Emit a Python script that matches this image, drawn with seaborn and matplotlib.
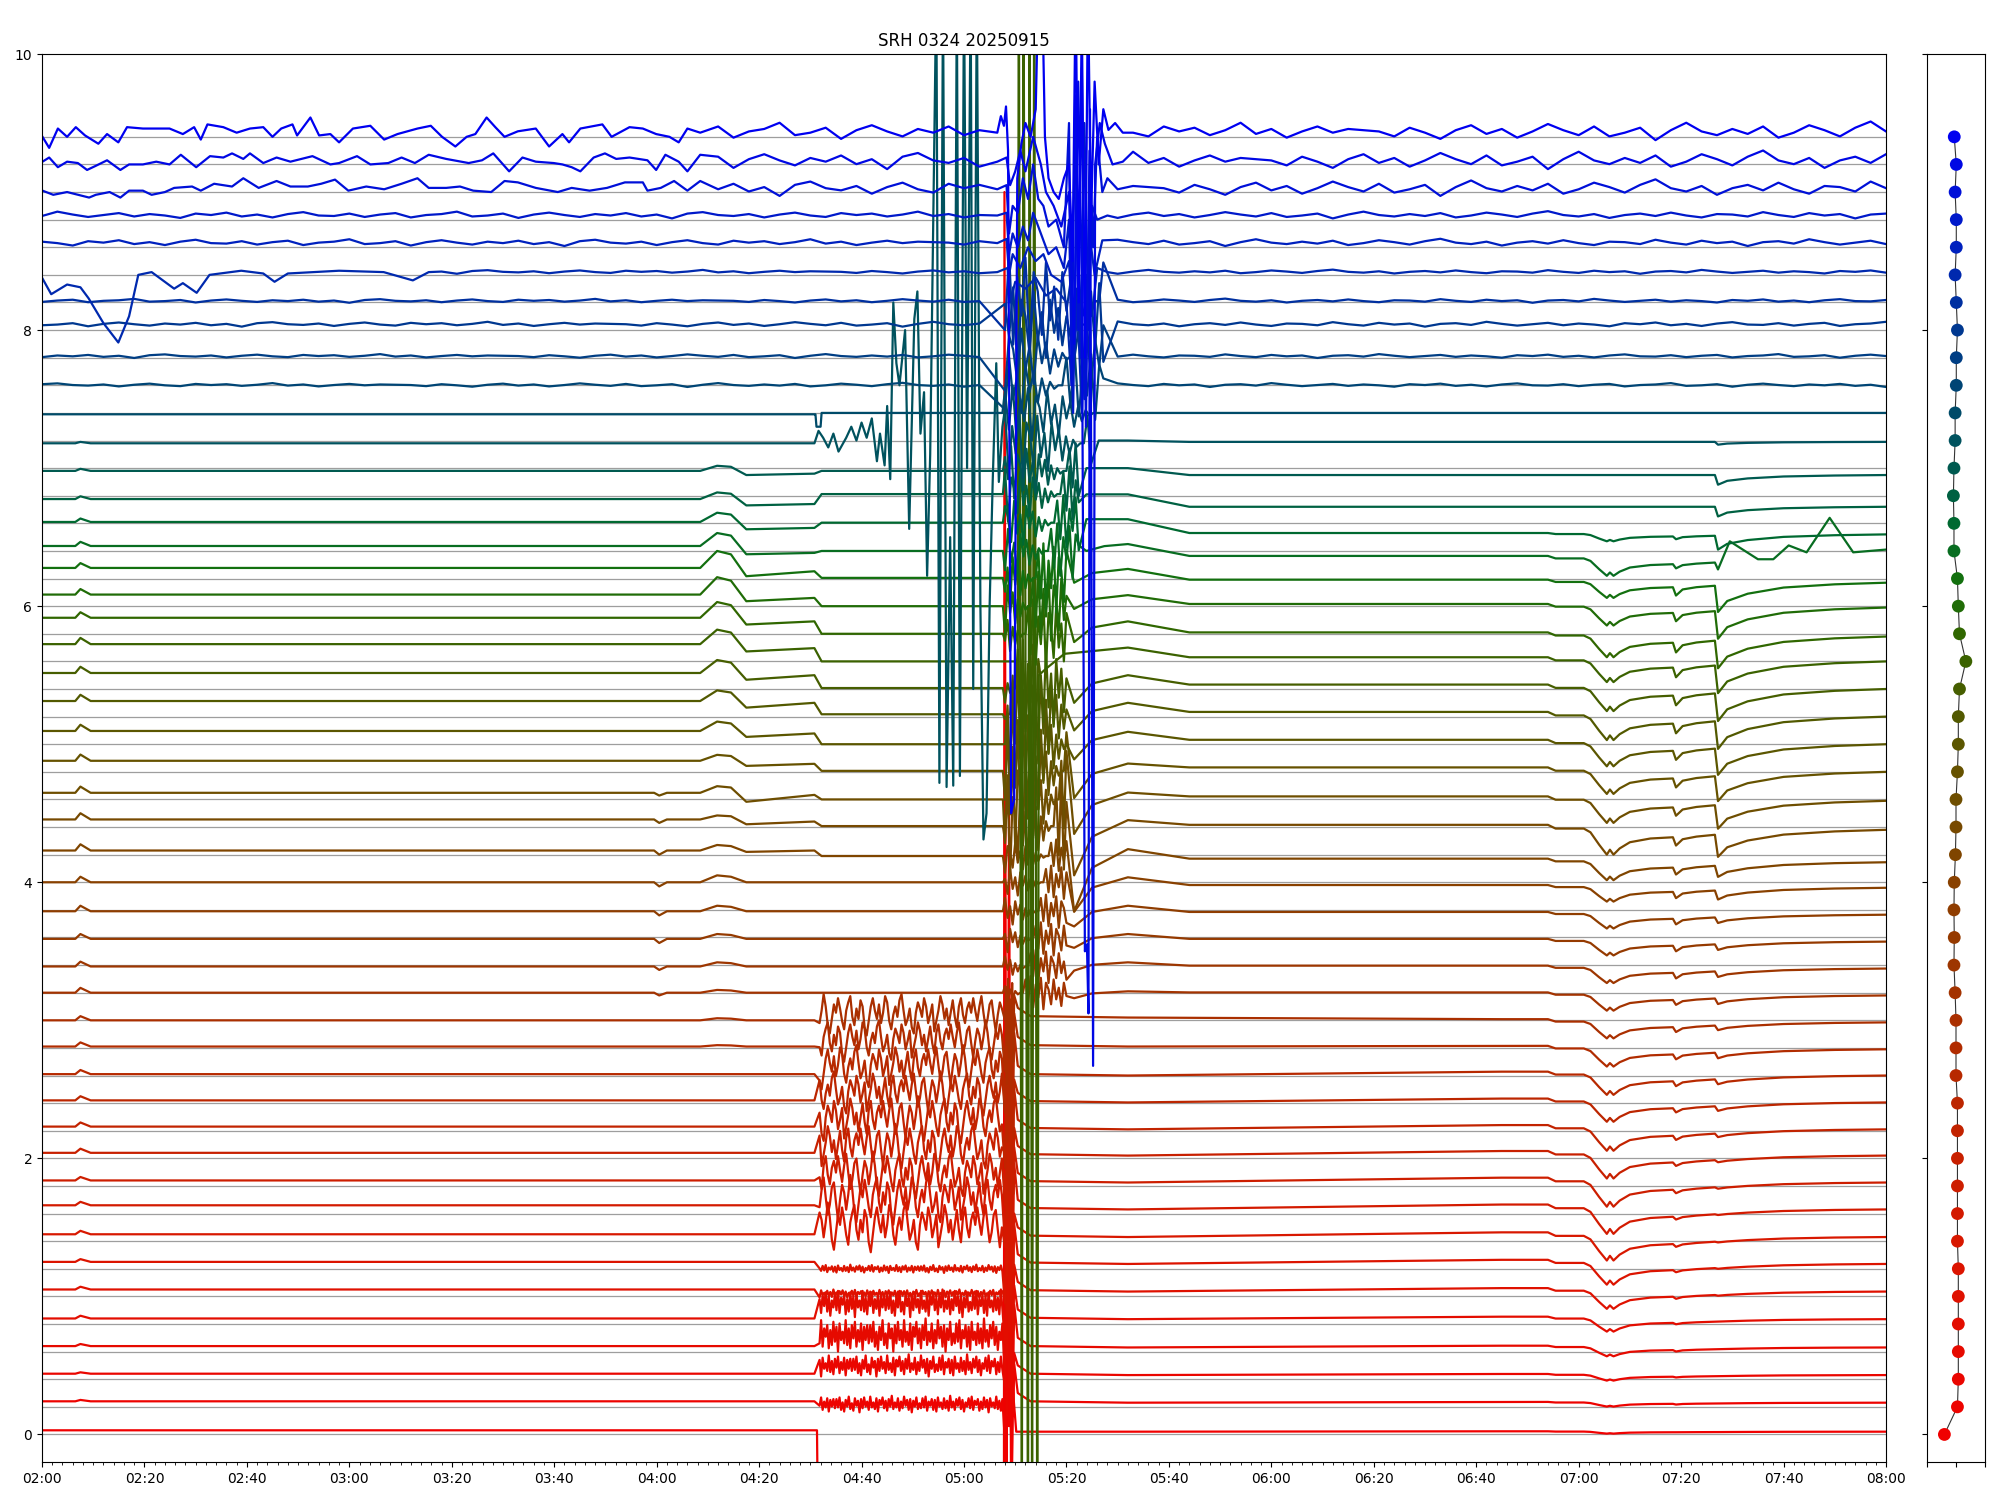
import numpy as np
import pandas as pd
import seaborn as sns
import matplotlib.pyplot as plt
import matplotlib.dates as mdates
from matplotlib.colors import LinearSegmentedColormap

# all times are minutes after 02:00, values are offsets above each grey baseline
levels = [0.0, 0.2, 0.4, 0.6, 0.8, 1.0, 1.2, 1.4, 1.6, 1.8,
          2.0, 2.2, 2.4, 2.6, 2.8, 3.0, 3.2, 3.4, 3.6, 3.8,
          4.0, 4.2, 4.4, 4.6, 4.8, 5.0, 5.2, 5.4, 5.6, 5.8,
          6.0, 6.2, 6.4, 6.6, 6.8, 7.0, 7.2, 7.4, 7.6, 7.8,
          8.0, 8.2, 8.4, 8.6, 8.8, 9.0, 9.2, 9.4]

# levels before 04:15, at the 04:15 hump, 04:17-04:31, 04:32-05:08, after 05:30, 06:45 on
lift_a = [.03, .04, .04, .04, .04, .05, .05, .05, .06, .04, .04, .03, .02, .01, .01, 0, 0, -.01, -.01, -.01,
          0, .03, .055, .048, .08, .096, .113, .116, .125, .116, .084, .077, .036, .01, -.024, -.02, -.02, -.01,
          0, .01, .04, .01, .02, .03, .03, .02, .02, .03]
peak_415 = [.03, .04, .04, .04, .04, .05, .05, .05, .06, .04, .04, .03, .02, .01, .02, .015, .02, .02, .025, .03,
            .05, .07, .084, .096, .123, .164, .19, .21, .23, .23, .21, .2, .13, .077, .024, .017, -.02, -.01,
            0, .01, .04, .01, .02, .03, .03, .02, .02, .03]
lift_m = [.03, .04, .04, .04, .04, .05, .05, .05, .06, .04, .04, .03, .02, .01, .01, 0, 0, -.01, -.01, -.01,
          0, .02, .02, -.017, .043, .053, .065, .067, .072, .067, .036, .017, -.024, -.043, -.07, -.05, -.02, -.01,
          0, .01, .04, .01, .02, .03, .03, .02, .02, .03]
# slow rise of the level between 04:20 and 04:31
rise_m = [0, 0, 0, 0, 0, 0, 0, 0, 0, 0, 0, 0, 0, 0, 0, 0, 0, 0, 0, 0,
          0, .01, .02, .05, .015, .025, .035, .033, .024, .023, .024, .036, .01, .01, .01, .01, 0, 0,
          0, 0, 0, 0, 0, 0, 0, 0, 0, 0]
lift_b = [.03, .04, .04, .04, .04, .05, .05, .05, .06, .04, .04, .03, .02, .01, .01, 0, 0, -.01, -.01, -.01,
          0, -.01, .007, 0, .007, 0, .017, .007, 0, 0, 0, .005, 0, .005, .012, -.02, -.02, 0,
          0, .01, .04, .01, .02, .03, .03, .02, .02, .03]
lift_p = [.02, .03, .03, .03, .035, .035, .035, .03, .03, .025, .02, .01, .005, 0, .01, .02, .01, .02, .025, .03,
          .036, .04, .05, .05, .06, .09, .1, .1, .1, .09, .08, .07, .05, .03, .01, 0, 0, 0,
          0, .01, .04, .01, .02, .03, .03, .02, .02, .03]
lift_c = [.02, .03, .03, .03, .035, .035, .035, .03, .03, .025, .02, .01, .005, 0, -.01, -.015, -.02, -.025, -.03, -.035,
          -.04, -.055, -.02, -.01, 0, 0, 0, 0, 0, -.02, -.01, -.03, -.06, -.08, -.08, -.05, -.01, 0,
          0, .01, .04, .01, .02, .03, .03, .02, .02, .03]
bump_207 = [0, .01, .01, .015, .02, .02, .02, .025, .025, .025, .03, .03, .03, .03, .03, .03, .035, .035, .035, .04,
            .04, .045, .045, .045, .045, .045, .045, .045, .045, .04, .04, .035, .03, .025, .02, .015, .01, 0,
            0, 0, 0, 0, 0, 0, 0, 0, 0, 0]
dip_400 = [0, 0, 0, 0, 0, 0, 0, 0, 0, 0, 0, 0, 0, 0, 0, 0, .02, .025, .03, .03,
           .03, .03, .025, .02, 0, 0, 0, 0, 0, 0, 0, 0, 0, 0, 0, 0, 0, 0,
           0, 0, 0, 0, 0, 0, 0, 0, 0, 0]
# depths of the 07:05, 07:19 and 07:27 dips
a705 = [.014, .028, .04, .064, .09, .125, .15, .17, .177, .175, .166, .155, .14, .14, .125, .116, .11, .105, .10, .10,
        .10, .13, .18, .16, .16, .16, .17, .16, .15, .15, .13, .11, .12, .05, 0, 0, 0, 0,
        0, 0, 0, 0, 0, 0, 0, 0, 0, 0]
a719 = [0, .005, .005, .01, .01, .015, .015, .02, .02, .025, .025, .03, .03, .035, .035, .035, .035, .04, .04, .04,
        .045, .05, .06, .06, .065, .065, .07, .07, .07, .07, .06, .06, .03, .02, 0, 0, 0, 0,
        0, 0, 0, 0, 0, 0, 0, 0, 0, 0]
a727 = [0, 0, 0, 0, 0, .005, .005, .005, .005, .01, .015, .025, .033, .035, .04, .033, .04, .04, .04, .04,
        .065, .08, .16, .17, .18, .19, .2, .2, .2, .2, .2, .19, .05, .1, .07, .07, .02, 0,
        0, 0, 0, 0, 0, 0, 0, 0, 0, 0]
# dip right after the 05:10 burst
post_dip = [0, -.06, -.06, -.06, -.06, -.06, -.06, -.06, -.06, -.06, -.06, -.06, -.06, -.06, -.06, -.06, .05, .06, .1, .15,
            .25, .45, .4, .3, .25, .2, .2, .2, .15, .15, .1, .1, .05, 0, 0, 0, 0, 0,
            0, 0, 0, 0, 0, 0, 0, 0, 0, 0]
burst_amp = [0, .3, .3, .3, .3, .3, .3, .3, .3, .3, .3, .3, .3, .3, .3, .3, .12, .12, .12, .12,
             .12, .12, .35, .35, .35, .35, .35, .35, 0, .25, .25, .25, .2, .2, .2, .2, .25, .2,
             .25, .25, .3, .35, 0, 0, 0, 0, 0, 0]
burst_step = [0, .2, .2, .2, .2, .2, .2, .2, .2, .2, .2, .2, .2, .2, .2, .2, .5, .5, .5, .5,
              .5, .5, .5, .5, .5, .5, .5, .5, .5, .5, .5, .5, .6, .6, .6, .6, .7, .75,
              .8, .8, .8, .8, 0, 0, 0, 0, 0, 0]

# 04:32-05:08 noise of the lowest traces: centre and half range
noise_mid = [0, .02, .1, .12, .15, .02, 0, .1, .1, .08, .08, .08, .07, .06, .05, .04]
noise_amp = [0, .06, .08, .12, .1, .03, .03, .18, .18, .17, .17, .17, .16, .16, .15, .15]
noise_slow = [0.8, 0.2, -0.3, 0.4, 0.9, 0.1, -0.6, -0.2, 0.5, 0.7, -0.1, -0.8, 0.0, 0.6, 0.3, -0.4,
              0.2, 1.0, 0.4, -0.5, -0.9, -0.2, 0.5, 0.1, 0.8, 0.3, -0.3, -0.7, 0.2, 0.6, 0.9, -0.1,
              -0.5, 0.3, -0.2, 0.7, 0.4, -0.6, -1.0, -0.3, 0.4, 0.8, 0.2, -0.2, 0.5, -0.4, 0.1, 0.9,
              0.6, -0.3, -0.7, 0.0, 0.4, -0.1, 0.7, 1.0, 0.2, -0.5, -0.2, 0.3, -0.6, -0.9, 0.1, 0.6,
              0.3, -0.1, 0.8, 0.4, -0.4, 0.0, 0.5, -0.8, -0.3, 0.2, 0.9, 0.5, -0.2, 0.3, -0.5, 0.1,
              0.7, -0.1, -0.6, 0.4, 0.8, 0.0, -0.4, 0.3, 0.6, 0.1]
noise_fast = [0.6, -0.4, 0.8, -0.7, 0.2, -0.9, 0.5, -0.3, 0.9, -0.6, 0.1, -0.8, 0.7, -0.2, 0.4, -1.0,
              0.6, -0.5, 0.8, -0.3, 0.3, -0.7, 0.9, -0.4, 0.2, -0.6, 0.7, -0.9, 0.5, -0.1, 0.8, -0.5,
              0.4, -0.8, 0.6, -0.3, 1.0, -0.6, 0.2, -0.4, 0.7, -0.8, 0.3, -0.5, 0.9, -0.2, 0.5, -0.7,
              0.6, -1.0, 0.4, -0.3, 0.8, -0.6, 0.1, -0.5, 0.7, -0.4, 0.9, -0.8, 0.3, -0.2, 0.6, -0.7,
              0.5, -0.9, 0.8, -0.3, 0.2, -0.6, 0.7, -0.5, 0.4, -0.8, 1.0, -0.4, 0.3, -0.7, 0.6, -0.2,
              0.8, -0.6, 0.5, -0.9, 0.2, -0.3, 0.7, -0.5, 0.9, -0.7, 0.4, -0.1, 0.6, -0.8, 0.3, -0.6,
              0.8, -0.4, 0.5, -1.0, 0.7, -0.3, 0.2, -0.5, 0.9, -0.6, 0.4, -0.8, 0.6, -0.2, 0.8, -0.7,
              0.3, -0.4, 0.7, -0.9, 0.5, -0.3, 0.6, -0.5]
burst_seq = [0.0, 0.8, -0.6, 1.0, -0.9, 0.5, -0.3, 0.9, -1.0, 0.6, 0.2, -0.7, 0.8, -0.4, 0.3, -0.8,
             0.6, -0.2, 0.4, -0.5, 0.2, -0.3, 0.1, -0.1, 0.0]
# small ripples of the upper traces, one value every 3 minutes
wig_fine = [0.1, -0.3, 0.4, 0.0, -0.5, 0.2, 0.6, -0.1, 0.3, -0.4, 0.1, 0.7, 0.2, -0.2, 0.5, -0.3,
            0.0, 0.4, -0.6, 0.2, 0.8, 0.1, -0.2, 0.3, -0.1, 0.5, -0.4, 0.0, 0.6, 0.2, -0.3, 0.4,
            0.9, 0.1, -0.2, 0.3, -0.5, 0.1, 0.4, -0.1, 0.6, 0.0, -0.4, 0.3, 0.2, -0.2, 0.7, 0.1,
            -0.3, 0.5, 0.0, 0.3, -0.6, 0.2, 0.4, -0.1, 0.8, 0.2, -0.3, 0.1, 0.5, -0.2, 0.3, 0.0,
            -0.5, 0.4, 0.1, 0.6, -0.2, 0.2, -0.4, 0.3, 0.7, 0.0, -0.1, 0.4, -0.3, 0.2, 0.5, -0.4,
            0.1, 0.3, 0.8, -0.2, 0.0, 0.4, -0.5, 0.2, 0.6, 0.1, -0.3, 0.3, 0.0, 0.5, -0.2, 0.2,
            -0.6, 0.4, 0.7, 0.1, -0.1, 0.3, -0.4, 0.2, 0.6, 0.0, -0.3, 0.5, 0.1, 0.4, -0.2, 0.2,
            0.8, -0.1, 0.3, -0.4, 0.1, 0.5, 0.0, 0.3, 0.2]
wig_amp = [.02, .02, .025, .02, .02, .035, .035, .08, .09, .09]          # traces 7.6 ... 9.4

# shapes of the 07:05 / 07:19 / 07:27 dips
late_t = [285, 294, 295.5, 301, 302.3, 304.0, 305.5, 306.1, 306.8, 308.0, 310.0, 314, 318.4, 319.0, 320.3,
          323, 326.6, 327.2, 329, 333, 340, 350, 360]
s705 = [0.2, 0.2, 0.05, 0.05, -0.1, -0.6, -1.0, -0.8, -1.0, -0.75, -0.5, -0.35, -0.3, -0.3, -0.28, -0.24,
        -0.2, -0.2, -0.17, -0.12, -0.06, -0.02, 0.0]
s719 = [0, 0, 0, 0, 0, 0, 0, 0, 0, 0, 0, 0, 0, -1.0, -0.3, -0.1, 0, 0, 0, 0, 0, 0, 0]
s727 = [0, 0, 0, 0, 0, 0, 0, 0, 0, 0, 0, 0, 0, 0, 0, 0, 0, -1.0, -0.6, -0.35, -0.15, -0.05, 0]
k32_t = [329.5, 335, 338, 341, 344.5, 349, 353.6, 360]
k32_v = [0.07, -0.06, -0.06, 0.04, -0.01, 0.24, -0.01, 0.01]

# trace 8.4, early dips (absolute values)
k42_t = [0, 1.8, 4.9, 7.5, 9.1, 12, 14.9, 17, 18.8, 21.4, 25.8, 27.5, 30.2, 32.7, 38.9, 43.2, 45.4, 48, 58,
         66.7, 72.4, 75.5]
k42_v = [8.38, 8.26, 8.33, 8.31, 8.23, 8.05, 7.91, 8.1, 8.40, 8.42, 8.30, 8.34, 8.27, 8.40, 8.43, 8.41, 8.35,
         8.41, 8.43, 8.42, 8.36, 8.42]

# top three traces, 02:00-04:08 (offsets)
k47_t = [0.1, 1.4, 3.1, 4.9, 6.6, 8.4, 11.0, 12.7, 14.9, 16.6, 19.7, 22.3, 24.9, 27.5, 29.7, 31.0, 32.3, 35.4,
         38.0, 40.6, 43.2, 45.0, 46.7, 48.9, 49.8, 52.4, 54.1, 56.3, 58.0, 60.7, 64.1, 66.8, 69.4, 73.3, 75.9,
         78.1, 80.7, 82.9, 84.6, 86.8, 88.5, 90.3, 92.9, 96.4, 99.0, 101.6, 102.9, 105.1, 109.4, 111.2, 114.7,
         117.3, 119.9, 122.5, 124.3, 126.0, 128.5]
k47_v = [0.0, -0.08, 0.06, 0.0, 0.07, 0.01, -0.05, 0.02, -0.04, 0.07, 0.06, 0.06, 0.06, 0.02, 0.07, -0.02,
         0.09, 0.07, 0.03, 0.06, 0.07, 0.0, 0.06, 0.09, 0.01, 0.14, 0.01, 0.02, -0.04, 0.06, 0.08, -0.02,
         0.02, 0.06, 0.08, 0.0, -0.07, 0.0, 0.02, 0.14, 0.07, 0.0, 0.04, 0.06, -0.07, 0.02, -0.04, 0.06,
         0.09, 0.0, 0.07, 0.06, 0.02, 0.0, -0.04, 0.06, 0.03]
k46_t = [0.1, 1.4, 3.1, 4.9, 7.0, 8.8, 10.5, 12.7, 15.3, 17.0, 19.7, 22.3, 24.9, 27.1, 30.1, 32.8, 35.4, 37.1,
         39.3, 40.6, 43.2, 45.8, 48.5, 52.8, 56.3, 58.0, 61.5, 64.1, 67.6, 70.2, 72.8, 75.5, 78.9, 83.3, 85.9,
         88.1, 91.2, 93.8, 96.4, 99.9, 101.6, 103.4, 105.1, 107.7, 109.9, 112.1, 114.7, 118.2, 119.9, 121.7,
         124.3, 126.0, 128.5]
k46_v = [0.02, 0.05, -0.02, 0.02, 0.01, -0.04, -0.01, 0.03, -0.04, 0.0, 0.0, 0.02, 0.0, 0.07, -0.02, 0.06,
         0.05, 0.08, 0.04, 0.08, 0.01, 0.05, 0.02, 0.06, 0.0, 0.01, 0.06, 0.0, 0.01, 0.05, 0.01, 0.07, 0.04,
         0.01, 0.03, 0.08, -0.05, 0.05, 0.02, 0.01, 0.0, -0.02, -0.05, 0.05, 0.08, 0.04, 0.05, 0.03, -0.04,
         0.07, 0.02, -0.05, 0.07]
k45_t = [0.1, 2.2, 4.9, 9.2, 10.5, 13.2, 15.3, 17.0, 19.7, 21.4, 24.0, 25.8, 29.3, 31.0, 33.6, 37.1, 39.3,
         42.3, 45.8, 48.5, 51.9, 54.5, 57.2, 59.8, 63.3, 66.8, 70.2, 73.3, 75.5, 78.9, 81.6, 84.2, 87.7, 90.3,
         92.9, 96.4, 100.7, 103.4, 106.9, 110.3, 113.8, 117.3, 118.2, 120.8, 123.4, 126.0, 128.5]
k45_v = [0.01, -0.02, 0.0, -0.04, -0.02, 0.0, -0.04, 0.01, 0.01, -0.02, 0.0, 0.03, 0.04, 0.01, 0.06, 0.04,
         0.1, 0.03, 0.08, 0.04, 0.04, 0.06, 0.09, 0.01, 0.04, 0.02, 0.06, 0.1, 0.03, 0.03, 0.04, 0.01, 0.0,
         0.08, 0.07, 0.03, 0.0, 0.03, 0.01, 0.03, 0.07, 0.07, 0.01, 0.03, 0.08, 0.01, 0.08]

# teal burst of trace 7.2 (absolute values)
teal_t = [151.6, 152.5, 153.5, 154.5, 155.5, 157, 158, 159, 160, 161, 162, 163, 163.6, 164.5, 165, 165.6,
          166.2, 166.8, 167.4, 168.5, 169.3, 170.3, 170.9, 171.5, 172.2, 172.8, 173.4, 174.6, 175.2, 175.9,
          176.6, 177.3, 177.9, 178.6, 179.2, 180.0, 180.6, 181.3, 181.8, 182.5, 183.2, 183.8, 184.4, 185.0,
          185.6, 186.3, 186.8, 187.5]
teal_v = [7.27, 7.22, 7.15, 7.25, 7.12, 7.22, 7.30, 7.20, 7.33, 7.22, 7.36, 7.05, 7.25, 7.02, 7.45, 6.92,
          8.2, 7.76, 7.6, 8.0, 6.56, 8.08, 8.28, 7.25, 7.55, 6.22, 7.1, 10.5, 4.72, 10.5, 4.69, 6.5, 4.7,
          10.5, 4.77, 10.5, 7.0, 10.5, 5.4, 10.5, 6.0, 4.31, 4.5, 6.0, 6.9, 7.76, 6.9, 7.3]
# green spikes of trace 5.6 and red spikes of trace 0 (absolute values)
green_t = [190.5, 190.7, 191.3, 191.6, 192.5, 192.8, 193.3, 193.7, 194.3, 194.6]
green_v = [5.6, 11.0, -1.0, 11.0, -1.0, 11.0, -1.0, 11.0, -1.0, 5.5]
red_t = [187.9, 188.3, 188.8, 189.2, 189.6, 190.2]
red_v = [9.0, -0.7, 4.5, -0.7, 0.3, 0.02]
# blue burst, 05:06-05:30 (absolute values)
b47_t = [186.5, 187.2, 187.8, 188.2, 188.6, 189.2, 189.8, 190.4, 191.2, 192.0, 193.0, 194.0, 194.6, 195.2,
         195.8, 196.5, 197.5, 198.5, 199.5, 200.5, 201.2, 201.8, 202.4, 203.0, 203.6, 204.2, 204.8, 205.5,
         206.3, 207.2, 208.2, 209.5, 211]
b47_v = [9.43, 9.55, 9.48, 9.62, 9.3, 4.5, 4.6, 9.1, 9.35, 9.5, 9.4, 9.6, 10.6, 10.6, 9.4, 9.1, 9.0, 8.95,
         9.1, 9.2, 8.5, 10.5, 8.2, 10.3, 7.8, 10.5, 8.8, 9.8, 9.2, 9.6, 9.45, 9.5, 9.43]
b46_t = [186.5, 188.3, 189, 190, 191, 192, 193.5, 195, 196, 197.5, 199, 200.5, 201.5, 202.3, 203, 203.6,
         204.0, 204.3, 204.6, 205.2, 205.6, 206.5, 207.5, 209, 211]
b46_v = [9.22, 9.25, 9.05, 9.15, 9.3, 9.15, 9.4, 9.2, 9.0, 8.9, 8.75, 9.0, 7.9, 9.8, 8.4, 3.5, 3.55, 3.05,
         9.6, 2.67, 9.2, 9.5, 9.35, 9.2, 9.22]
b45_t = [186.5, 188.3, 188.8, 189.5, 190.5, 191.5, 192.5, 193.5, 194.5, 195.5, 196.5, 198, 199.5, 200.5, 201,
         201.7, 202.3, 203, 203.8, 204.5, 205.2, 206, 207, 208, 210]
b45_v = [9.02, 9.05, 8.7, 8.9, 8.85, 9.1, 8.95, 9.2, 8.95, 8.9, 8.75, 8.8, 8.6, 9.5, 7.6, 9.7, 8.0, 9.9, 7.3,
         9.3, 8.6, 9.4, 9.0, 9.1, 9.02]
b44_t = [186.5, 188.3, 188.8, 189.5, 190.5, 191.5, 192.5, 193.5, 195, 196.5, 198, 199.5, 200.5, 201.3, 202,
         202.8, 203.5, 204.3, 205, 206, 208]
b44_v = [8.83, 8.85, 8.55, 8.7, 8.6, 8.75, 8.65, 8.85, 8.7, 8.55, 8.6, 8.45, 8.8, 7.4, 9.1, 7.8, 9.5, 8.0,
         8.9, 8.8, 8.83]
b43_t = [186.5, 188.3, 188.8, 189.5, 191, 192.5, 194, 195.5, 197, 199, 200.5, 201.5, 202.5, 203.5, 204.5,
         205.5, 207]
b43_v = [8.63, 8.66, 8.4, 8.55, 8.45, 8.6, 8.5, 8.55, 8.4, 8.35, 8.5, 7.8, 8.4, 7.5, 8.7, 8.4, 8.65]
b42_t = [186.5, 188.5, 189, 190, 192, 194, 196, 198, 200, 201, 202, 203, 204, 205, 206, 208]
b42_v = [8.42, 8.45, 8.2, 8.35, 8.3, 8.38, 8.25, 8.3, 8.2, 7.6, 8.3, 7.4, 8.4, 8.1, 8.45, 8.42]

# side panel: horizontal position of each trace's marker
dot_x = [-0.40, 0.05, 0.08, 0.08, 0.08, 0.08, 0.08, 0.05, 0.05, 0.05, 0.05, 0.05, 0.05, 0.0, 0.0, 0.0,
         -0.03, -0.07, -0.06, -0.07, -0.06, -0.02, 0.0, 0.0, 0.05, 0.08, 0.08, 0.12, 0.34, 0.12, 0.08, 0.05,
         -0.07, -0.07, -0.09, -0.07, -0.03, -0.03, 0.01, 0.01, 0.05, 0.01, -0.03, 0.01, 0.01, -0.03, 0.01, -0.06]

cmap = LinearSegmentedColormap.from_list('srh', [
    (0.0, '#f00000'), (0.15, '#d81800'), (0.3, '#b02c00'), (0.42, '#8a4000'), (0.5, '#6a5000'),
    (0.57, '#4a5c00'), (0.62, '#2d6800'), (0.66, '#12700f'), (0.7, '#006a30'), (0.745, '#005a50'),
    (0.79, '#004a6a'), (0.85, '#00388f'), (0.92, '#0020c0'), (1.0, '#0000f0')])
colors = [cmap(k / 47) for k in range(48)]
names = ['f%02d' % k for k in range(48)]

T0 = pd.Timestamp('2025-09-15 02:00')


def seq_at(start, step, seq, shift=0):
    s = np.roll(np.asarray(seq, float), shift)
    return list(start + step * np.arange(len(s))), s


def build(k):
    t, v = [], []

    def add(tt, vv):
        t.extend(list(tt))
        v.extend(list(vv))

    lev = levels[k]
    if k >= 38:
        wt, ws = seq_at(0, 360.0 / (len(wig_fine) - 1), wig_fine, 7 * k)
        amp = wig_amp[k - 38]
        if k in (45, 46, 47):
            et, ev = {45: (k45_t, k45_v), 46: (k46_t, k46_v), 47: (k47_t, k47_v)}[k]
            add(et, np.asarray(ev) + lev)
            start = 130
        elif k == 42:
            add(k42_t, k42_v)
            start = 77
        else:
            start = -1
        for a, b in zip(wt, ws):
            if start < a <= 184:
                add([a], [lev + lift_a[k] + amp * b])
        if k >= 42:
            bt, bv = {42: (b42_t, b42_v), 43: (b43_t, b43_v), 44: (b44_t, b44_v),
                      45: (b45_t, b45_v), 46: (b46_t, b46_v), 47: (b47_t, b47_v)}[k]
            add(bt, bv)
        else:
            bt, bs = seq_at(188, burst_step[k], burst_seq, 3 * k)
            add(bt, lev + lift_b[k] + burst_amp[k] * bs)
        end = bt[-1]
        for a, b in zip(wt, ws):
            if a > end + 1:
                add([a], [lev + lift_c[k] + amp * b])
        return t, v

    la, pk, lm, lb = lift_a[k], peak_415[k], lift_m[k], lift_b[k]
    lp, lc = lift_p[k], lift_c[k]
    add([0, 6.5, 7.5, 9.5, 119.5, 120.5, 122.0, 128.5, 131.8, 134.5, 137.5, 150.8],
        lev + np.array([la, la, la + bump_207[k], la, la, la - dip_400[k], la, la, pk,
                        la + 0.8 * (pk - la), lm, lm + rise_m[k]]))

    # 04:32 - 05:08
    if k == 0:
        add([151.3, 151.5, 187.8], [la, -0.7, -0.7])
        add(red_t, red_v)
        add([193, 212], [lp, lp])
    elif k <= 15:
        seq = noise_fast if k <= 6 else noise_slow
        nt, ns = seq_at(151.8, 36.0 / len(seq), seq, 11 * k)
        add(nt, lev + noise_mid[k] + noise_amp[k] * ns)
    elif k == 36:
        add(teal_t, teal_v)
    elif k == 37:
        add([151.0, 151.2, 152.0, 152.2, 187.5], lev + np.array([la, -0.1, -0.1, lb, lb]))
    else:
        add([152.2, 187.6], lev + np.array([lb, lb]))

    # 05:08 - 05:30 burst
    if k == 28:
        add(green_t, green_v)
        end = green_t[-1]
    elif k > 0:
        nb = 10 if k <= 15 else len(burst_seq)
        bt, bs = seq_at(188, burst_step[k], burst_seq[:nb], 2 * k)
        add(bt, lev + lb + burst_amp[k] * bs)
        end = bt[-1]
    flat = lc + s705[0] * a705[k]
    if k > 0:
        if k <= 15:
            add([190.5, 193.0, 212], lev + np.array([lp + 0.07, lp + 0.01, lp]))
        else:
            add([end + 1.5, end + 5, 212, 224],
                lev + np.array([lp - post_dip[k], lp - 0.3 * post_dip[k], lp, flat]))

    # 06:45 - 08:00
    vals = lc + a705[k] * np.array(s705) + a719[k] * np.array(s719) + a727[k] * np.array(s727)
    if k == 32:
        keep = [i for i, a in enumerate(late_t) if a <= 327.2]
        add([late_t[i] for i in keep], lev + vals[keep])
        add(k32_t, lev + np.array(k32_v))
    else:
        add(late_t, lev + vals)
    return t, v


frames = []
for k in range(48):
    t, v = build(k)
    frames.append(pd.DataFrame({'time': T0 + pd.to_timedelta(np.asarray(t, float), unit='min'),
                                'value': v, 'trace': names[k]}))
df = pd.concat(frames, ignore_index=True)

fig = plt.figure(figsize=(20, 15), dpi=100)
ax = fig.add_axes([0.021, 0.0253, 0.922, 0.9387])
ax2 = fig.add_axes([0.9635, 0.0253, 0.029, 0.9387], sharey=ax)

for lv in levels:
    ax.axhline(lv, color='0.62', lw=0.9, zorder=0)

sns.lineplot(data=df, x='time', y='value', hue='trace', hue_order=names,
             palette=dict(zip(names, colors)), estimator=None, sort=False,
             legend=False, lw=1.6, ax=ax)

ax.set_xlim(T0, T0 + pd.Timedelta(hours=6))
ax.set_ylim(-0.2, 10)
ax.set_yticks([0, 2, 4, 6, 8, 10])
ax.xaxis.set_major_locator(mdates.MinuteLocator(byminute=[0, 20, 40]))
ax.xaxis.set_minor_locator(mdates.MinuteLocator(byminute=range(0, 60, 2)))
ax.xaxis.set_major_formatter(mdates.DateFormatter('%H:%M'))
ax.set_xlabel('')
ax.set_ylabel('')
ax.set_title('SRH 0324 20250915')

side = pd.DataFrame({'x': dot_x, 'y': levels, 'trace': names})
sns.lineplot(data=side, x='x', y='y', sort=False, estimator=None, color='k', lw=0.8,
             alpha=0.8, ax=ax2)
sns.scatterplot(data=side, x='x', y='y', hue='trace', hue_order=names,
                palette=dict(zip(names, colors)), s=85, linewidth=0, legend=False, ax=ax2, zorder=3)
ax2.set_xlim(-1, 1)
ax2.set_xticks([-1, 0, 1])
ax2.tick_params(labelleft=False, labelbottom=False)
ax2.set_xlabel('')
ax2.set_ylabel('')

fig.savefig('out.png', dpi=100)
